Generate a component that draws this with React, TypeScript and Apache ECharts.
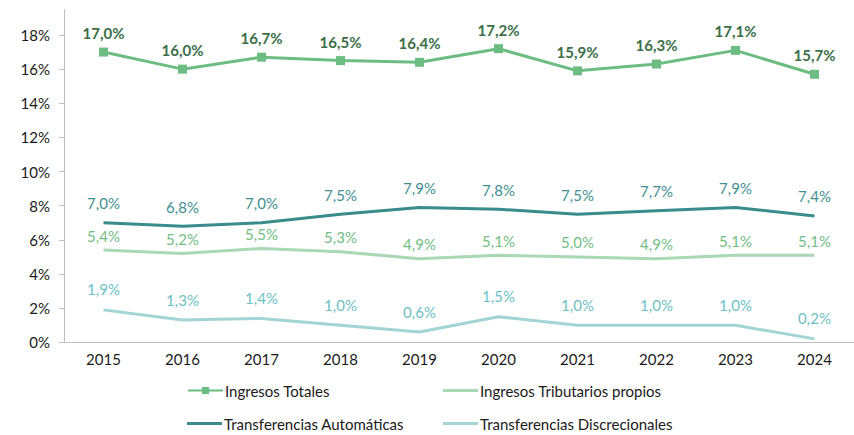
import React, { useEffect, useRef } from "react";
import * as echarts from "echarts";

const years = ["2015", "2016", "2017", "2018", "2019", "2020", "2021", "2022", "2023", "2024"];
const ingresosTotales = [17.0, 16.0, 16.7, 16.5, 16.4, 17.2, 15.9, 16.3, 17.1, 15.7];
const ingresosTributarios = [5.4, 5.2, 5.5, 5.3, 4.9, 5.1, 5.0, 4.9, 5.1, 5.1];
const transfAutomaticas = [7.0, 6.8, 7.0, 7.5, 7.9, 7.8, 7.5, 7.7, 7.9, 7.4];
const transfDiscrecionales = [1.9, 1.3, 1.4, 1.0, 0.6, 1.5, 1.0, 1.0, 1.0, 0.2];

const FONT = "Lato, 'Open Sans', sans-serif";
const fmt = (v: number) => v.toFixed(1).replace(".", ",") + "%";

export default function App() {
  const ref = useRef<HTMLDivElement>(null);
  useEffect(() => {
    document.body.style.margin = "0";
    const chart = echarts.init(ref.current!, null, { renderer: "svg" });
    const lbl = (color: string, bold = false, dist = 8) => ({
      show: true,
      position: "top",
      distance: dist,
      color,
      fontFamily: FONT,
      fontSize: 15,
      fontWeight: bold ? "bold" : "normal",
      formatter: (p: any) => fmt(p.value),
    });
    const legendBase = {
      itemWidth: 35,
      itemHeight: 9,
      itemGap: 0,
      textStyle: { fontFamily: FONT, fontSize: 15, color: "#1a1a1a", padding: [0, 0, 0, -3] },
      padding: 0,
    };
    const lineLegend = (name: string, color: string, left: number, top: number) => ({
      ...legendBase,
      left,
      top,
      itemHeight: 3,
      data: [{ name, icon: "rect", itemStyle: { color } }],
    });
    chart.setOption({
      animation: false,
      grid: { left: 64, width: 792, top: 9.4, bottom: 92.7 },
      xAxis: {
        type: "category",
        data: years,
        axisLine: { lineStyle: { color: "#bfbfbf", width: 1 } },
        axisTick: { alignWithLabel: true, length: 5, lineStyle: { color: "#bfbfbf" } },
        axisLabel: { color: "#1a1a1a", fontFamily: FONT, fontSize: 15, margin: 9 },
      },
      yAxis: {
        type: "value",
        min: 0,
        max: 19.5,
        interval: 2,
        splitLine: { show: false },
        axisLine: { show: true, lineStyle: { color: "#bfbfbf", width: 1 } },
        axisTick: { show: true, length: 5, lineStyle: { color: "#bfbfbf" } },
        axisLabel: {
          color: "#1a1a1a",
          fontFamily: FONT,
          fontSize: 15,
          margin: 14,
          showMaxLabel: false,
          formatter: (v: number) => (Math.abs(v % 2) < 1e-6 ? v + "%" : ""),
        },
      },
      legend: [
        { ...legendBase, left: 187, top: 383, data: ["Ingresos Totales"] },
        lineLegend("Ingresos Tributarios propios", "#a9d8b4", 443, 383),
        lineLegend("Transferencias Automáticas", "#3a8b8c", 187, 416),
        lineLegend("Transferencias Discrecionales", "#a2d4d6", 443, 416),
      ],
      series: [
        {
          name: "Ingresos Totales",
          type: "line",
          data: ingresosTotales,
          symbol: "rect",
          symbolSize: 9,
          lineStyle: { color: "#6dbd82", width: 3 },
          itemStyle: { color: "#6dbd82" },
          label: lbl("#3b6e47", true, 7),
          z: 5,
        },
        {
          name: "Ingresos Tributarios propios",
          type: "line",
          data: ingresosTributarios,
          symbol: "circle",
          symbolSize: 0,
          showSymbol: true,
          lineStyle: { color: "#a9d8b4", width: 3 },
          itemStyle: { color: "#a9d8b4" },
          label: lbl("#72bd85", false, 7),
        },
        {
          name: "Transferencias Automáticas",
          type: "line",
          data: transfAutomaticas,
          symbol: "circle",
          symbolSize: 0,
          showSymbol: true,
          lineStyle: { color: "#3a8b8c", width: 3 },
          itemStyle: { color: "#3a8b8c" },
          label: lbl("#3f8f92", false, 12),
        },
        {
          name: "Transferencias Discrecionales",
          type: "line",
          data: transfDiscrecionales,
          symbol: "circle",
          symbolSize: 0,
          showSymbol: true,
          lineStyle: { color: "#a2d4d6", width: 3 },
          itemStyle: { color: "#a2d4d6" },
          label: lbl("#6dbfc3", false, 13),
        },
      ],
    });
    return () => chart.dispose();
  }, []);
  return <div ref={ref} style={{ width: 854, height: 435 }} />;
}
